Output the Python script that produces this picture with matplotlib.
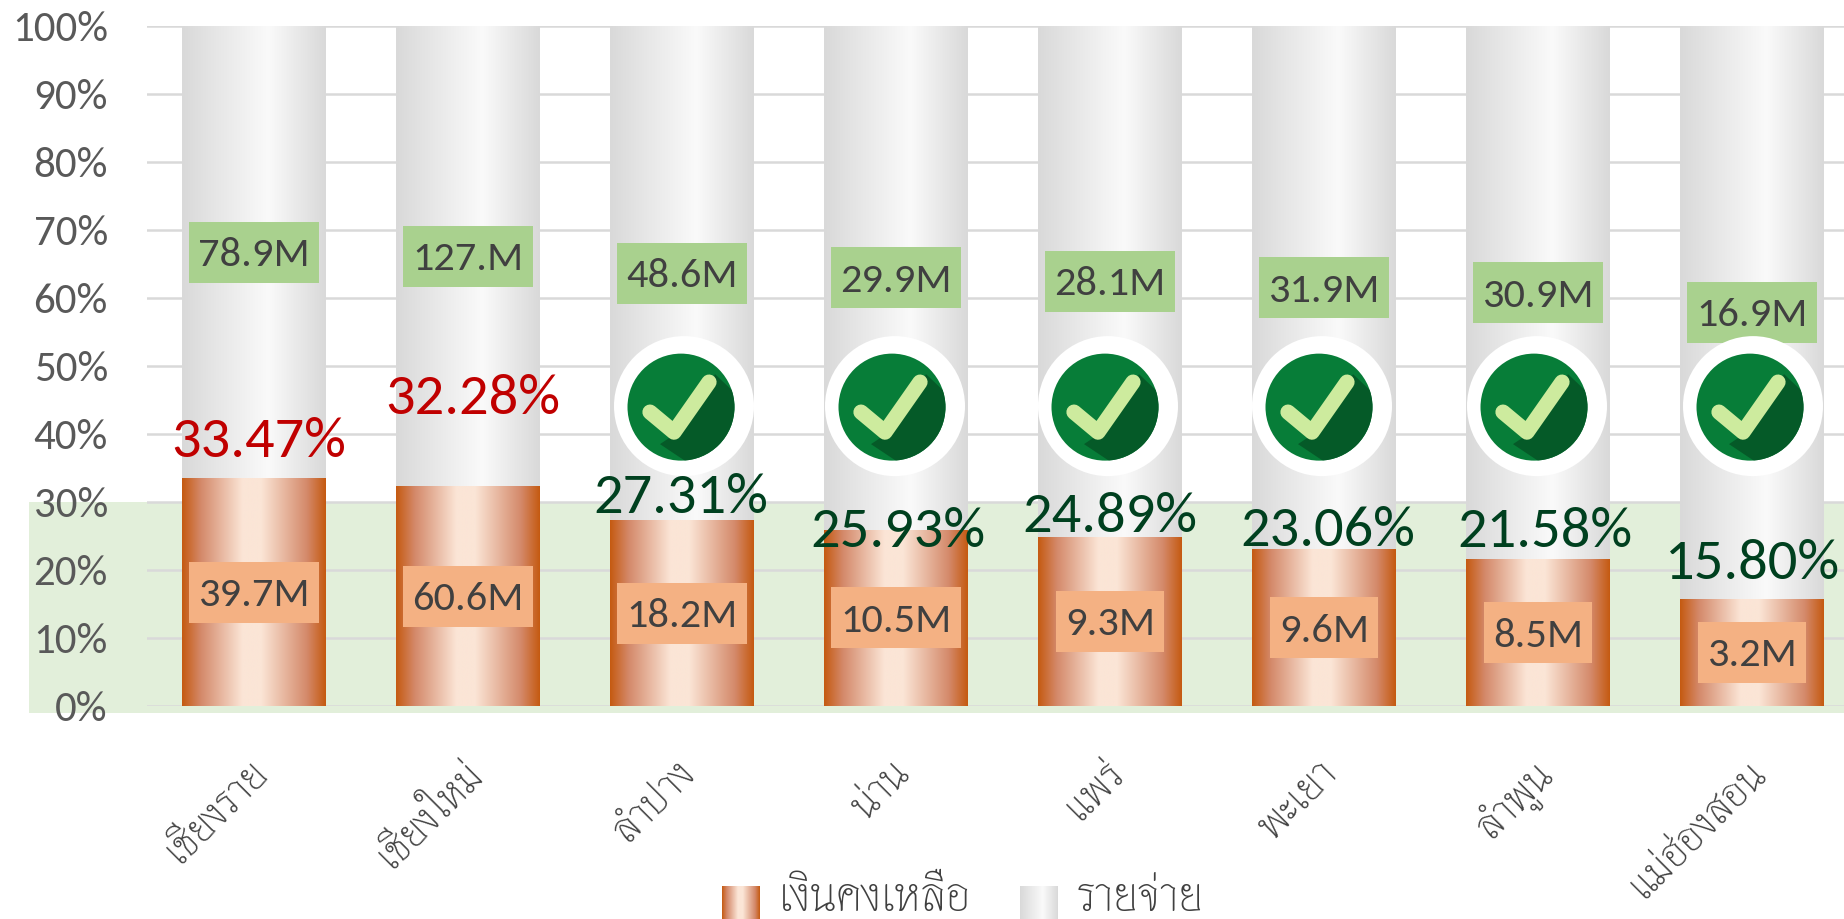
import numpy as np
import matplotlib
matplotlib.use('Agg')
import matplotlib.pyplot as plt
from matplotlib.colors import LinearSegmentedColormap
from matplotlib.image import BboxImage
from matplotlib.legend_handler import HandlerBase
from matplotlib.patches import Circle, Patch, Polygon, Rectangle
from matplotlib.lines import Line2D
from matplotlib.transforms import Affine2D, Bbox, IdentityTransform, TransformedBbox

provinces = ['เชียงราย', 'เชียงใหม่', 'ลำปาง', 'น่าน', 'แพร่', 'พะเยา', 'ลำพูน', 'แม่ฮ่องสอน']
remaining_pct = [33.47, 32.28, 27.31, 25.93, 24.89, 23.06, 21.58, 15.80]
remaining_lbl = ['39.7M', '60.6M', '18.2M', '10.5M', '9.3M', '9.6M', '8.5M', '3.2M']
expense_lbl = ['78.9M', '127.M', '48.6M', '29.9M', '28.1M', '31.9M', '30.9M', '16.9M']
legend_names = ['เงินคงเหลือ', 'รายจ่าย']
threshold = 30
passed = [False, False, True, True, True, True, True, True]

# layout (pixels)
W, H = 1844, 919
pct_dx = [5, 5, -1, 2, 0, 4, 7, 1]
pct_dy = [40, 91, 26, 2, 24, 22, 31, 39]
icon_dx = [0, 0, 2, -1, -2, -2, -1, 1]
LATIN = ['Carlito', 'Loma', 'DejaVu Sans']
THAI = ['Thasadith', 'Loma', 'DejaVu Sans']
GRAY = '#595959'
THAI_INK = '#404040'

expense_pct = [100 - v for v in remaining_pct]
x = np.arange(len(provinces))

orange = LinearSegmentedColormap.from_list('o', [(0, '#C55A11'), (0.13, '#D4896A'), (0.42, '#FBE5D6'), (0.55, '#FBE5D6'),
                                                 (0.87, '#D4896A'), (1, '#C55A11')])
silver = LinearSegmentedColormap.from_list('s', [(0, '#D9D9D9'), (0.6, '#FAFAFA'), (1, '#D9D9D9')])
ramp = np.linspace(0, 1, 256)[None, :]

fig = plt.figure(figsize=(W / 100, H / 100), dpi=100)
ax = fig.add_axes([147 / W, (H - 706) / H, 1712 / W, 680 / H])
ax.set_xlim(-0.5, 7.5)
ax.set_ylim(0, 100)
ax.set_axisbelow(True)
ax.grid(axis='y', color='#D9D9D9', lw=1.8, zorder=1)
ax.set_yticks(range(0, 101, 10))
ax.set_yticklabels([f'{v}%' for v in range(0, 101, 10)], fontsize=31, color=GRAY, family=LATIN)
ax.set_xticks(x)
ax.set_xticklabels(provinces, rotation=45, ha='right', rotation_mode='anchor', fontsize=31, color=THAI_INK,
                   family=THAI)
ax.tick_params(axis='y', length=0, pad=28.2)
ax.tick_params(axis='x', length=0, pad=33.5)
for t in ax.get_xticklabels():
    t.set_transform(t.get_transform() + Affine2D().translate(-7, 0))
for s in ax.spines.values():
    s.set_visible(False)

# target band, runs past the axis on the left
band = Rectangle((-0.5 - 118 / 214, -1), 8.6, threshold + 1, fc='#E2EFDA', ec='none', zorder=0, clip_on=False)
ax.add_patch(band)

bw = 143.5 / 214
for bars, cmap in ((ax.bar(x, remaining_pct, bw, color='#D4896A', zorder=2), orange),
                   (ax.bar(x, expense_pct, bw, bottom=remaining_pct, color='#EDEDED', zorder=2), silver)):
    for b in bars:
        b.set_linewidth(0)
        im = ax.imshow(ramp, cmap=cmap, aspect='auto', zorder=2.1,
                       extent=(b.get_x(), b.get_x() + b.get_width(), b.get_y(), b.get_y() + b.get_height()))
        im.set_clip_path(b)
ax.set_xlim(-0.5, 7.5)
ax.set_ylim(0, 100)

renderer = fig.canvas.get_renderer()

def boxed(i, ymid, s, fc):
    t = ax.annotate(s, (i, ymid), xytext=(0, -14), textcoords='offset pixels', ha='center', va='baseline',
                    fontsize=30.5, color='#404040', family=LATIN, zorder=5)
    e = t.get_window_extent(renderer)
    _, cy = ax.transData.transform((i, ymid))
    cx = (e.x0 + e.x1) / 2
    ax.add_patch(Rectangle((cx - e.width / 2 - 9, cy - 30.5), e.width + 18, 61, fc=fc, ec='none',
                           transform=IdentityTransform(), zorder=4))

for i in x:
    boxed(i, remaining_pct[i] / 2, remaining_lbl[i], '#F4B183')
    boxed(i, remaining_pct[i] + expense_pct[i] / 2, expense_lbl[i], '#A9D18E')
    col = '#00401F' if remaining_pct[i] <= threshold else '#C00000'
    ax.annotate(f'{remaining_pct[i]:.2f}%', (i, remaining_pct[i]), xytext=(pct_dx[i], pct_dy[i] - 19),
                textcoords='offset pixels', ha='center', va='baseline', fontsize=42, color=col,
                family=LATIN, zorder=8)

# check icons, drawn in pixels around a point on the chart
def icon(i, dx):
    cx, cy = ax.transData.transform((i, 44.1))
    tr = Affine2D().translate(cx + dx, cy) + IdentityTransform()
    ax.add_patch(Circle((0, 0), 70, fc='white', ec='none', transform=tr, zorder=6))
    disc = Circle((-3, -1), 53.5, fc='#077D38', ec='none', transform=tr, zorder=6.1)
    ax.add_patch(disc)
    shadow = Polygon([(31, 32), (70, -5), (50, -70), (12, -62), (-24, -38), (0, -22)], fc='#055A28', ec='none',
                     transform=tr, zorder=6.2)
    ax.add_patch(shadow)
    shadow.set_clip_path(disc)
    ax.add_line(Line2D([-34, -10, 25], [-6, -26, 24], color='#CDEB9E', lw=11, solid_capstyle='round',
                       solid_joinstyle='round', transform=tr, zorder=6.3))

for i in x:
    if passed[i]:
        icon(i, icon_dx[i])

class GradientHandler(HandlerBase):
    def __init__(self, cmaps):
        super().__init__()
        self.cmaps = cmaps
    def create_artists(self, legend, orig, xd, yd, w, h, fs, trans):
        box = TransformedBbox(Bbox.from_extents(-xd, -yd - 25, -xd + w, -yd + 21.5), trans)
        im = BboxImage(box, cmap=self.cmaps[orig.get_label()], interpolation='bilinear')
        im.set_data(ramp)
        return [im]

handles = [Patch(label=legend_names[0]), Patch(label=legend_names[1])]
leg = fig.legend(handles=handles, labels=legend_names, ncols=2, frameon=False, loc='lower left',
                 bbox_to_anchor=(722 / W, 1 / H), borderpad=0, borderaxespad=0,
                 handlelength=0.8, handleheight=1.0, handletextpad=0.4, columnspacing=1.04,
                 prop={'family': THAI, 'size': 34},
                 handler_map={Patch: GradientHandler({legend_names[0]: orange, legend_names[1]: silver})})
for t in leg.get_texts():
    t.set_color(THAI_INK)

fig.savefig('out.png', dpi=100)
